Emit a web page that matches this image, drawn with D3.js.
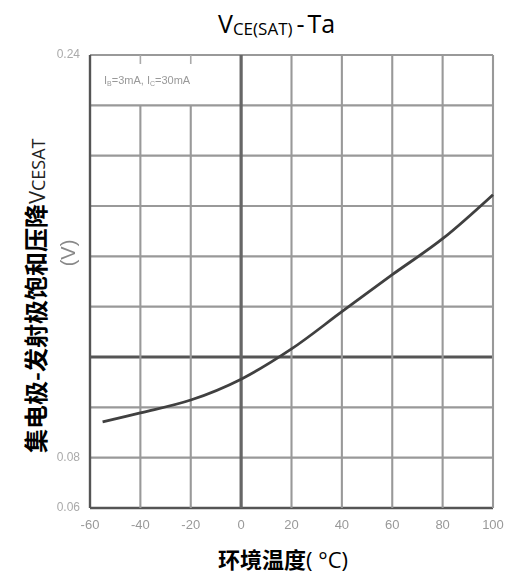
<!DOCTYPE html>
<html>
<head>
<meta charset="utf-8">
<script src="https://cdn.jsdelivr.net/npm/d3@7"></script>
<style>
  body { margin: 0; background: #fff; }
  svg { display: block; }
</style>
</head>
<body>
<div id="graph"></div>
<script>
const w = 514;
const h = 576;
const plot = { left: 90, right: 493, top: 55, bottom: 508 };

const temps = [-55, -40, -20, 0, 20, 40, 60, 80, 100];
const vcesat = [0.0942, 0.0978, 0.1029, 0.1112, 0.1232, 0.138, 0.1527, 0.167, 0.1845];

const xTicks = [-60, -40, -20, 0, 20, 40, 60, 80, 100];
const yGrid = [0.06, 0.08, 0.1, 0.12, 0.14, 0.16, 0.18, 0.2, 0.22, 0.24];
const yLabels = [0.06, 0.08, 0.24];
const boldX = [0];
const boldY = [0.12];
const shortX = [-40, -20]; // these stop under the note box

const svg = d3.select("#graph").append("svg").attr("width", w).attr("height", h);

const x = d3.scaleLinear().domain([-60, 100]).range([plot.left, plot.right]);
const y = d3.scaleLinear().domain([0.06, 0.24]).range([plot.bottom, plot.top]);

svg.append("defs").append("filter").attr("id", "scan")
  .append("feGaussianBlur").attr("stdDeviation", 0.7);

const g = svg.append("g").attr("filter", "url(#scan)");

// grid
g.selectAll(".hgrid")
  .data(yGrid)
  .enter()
  .append("line")
  .attr("x1", plot.left)
  .attr("x2", plot.right)
  .attr("y1", (d) => y(d))
  .attr("y2", (d) => y(d))
  .attr("stroke", (d) => (boldY.includes(d) || d === 0.06 ? "#555" : "#999"))
  .attr("stroke-width", (d) => (boldY.includes(d) ? 3.2 : d === 0.06 ? 2.6 : 2.1));

g.selectAll(".vgrid")
  .data(xTicks)
  .enter()
  .append("line")
  .attr("x1", (d) => x(d))
  .attr("x2", (d) => x(d))
  .attr("y1", (d) => (shortX.includes(d) ? y(0.22) : plot.top))
  .attr("y2", plot.bottom)
  .attr("stroke", (d) => (boldX.includes(d) ? "#666" : d === -60 ? "#555" : "#999"))
  .attr("stroke-width", (d) => (boldX.includes(d) ? 3.2 : d === -60 ? 2.4 : 2.1));

// little ticks at top of the note box
g.selectAll(".tick-top")
  .data(shortX)
  .enter()
  .append("line")
  .attr("x1", (d) => x(d))
  .attr("x2", (d) => x(d))
  .attr("y1", plot.top)
  .attr("y2", plot.top + 9)
  .attr("stroke", "#aaa")
  .attr("stroke-width", 1.6);

// curve
const line = d3
  .line()
  .x((d, i) => x(temps[i]))
  .y((d) => y(d))
  .curve(d3.curveCatmullRom.alpha(0.5));

g.append("path")
  .attr("d", line(vcesat))
  .attr("fill", "none")
  .attr("stroke", "#404040")
  .attr("stroke-width", 2.8);

// tick labels
const scanFont = "Liberation Sans Narrow, Liberation Sans, sans-serif";

g.selectAll(".xlab")
  .data(xTicks)
  .enter()
  .append("text")
  .attr("x", (d) => x(d))
  .attr("y", 529)
  .attr("text-anchor", "middle")
  .attr("font-family", scanFont)
  .attr("font-size", 13)
  .attr("fill", "#999")
  .text((d) => d);

g.selectAll(".ylab")
  .data(yLabels)
  .enter()
  .append("text")
  .attr("x", 80)
  .attr("y", (d) => y(d) + 3)
  .attr("text-anchor", "end")
  .attr("font-family", scanFont)
  .attr("font-size", 12)
  .attr("fill", "#aaa")
  .text((d) => d.toFixed(2));

g.append("text")
  .attr("x", 104)
  .attr("y", 84)
  .attr("font-family", scanFont)
  .attr("font-size", 11)
  .attr("fill", "#999")
  .html('I<tspan font-size="7" dy="2">B</tspan><tspan dy="-2">=3mA, I</tspan><tspan font-size="7" dy="2">C</tspan><tspan dy="-2">=30mA</tspan>');

g.append("text")
  .attr("transform", "translate(75,253) rotate(-90)")
  .attr("text-anchor", "middle")
  .attr("font-family", "Liberation Sans, sans-serif")
  .attr("font-size", 20)
  .attr("fill", "#888")
  .text("(V)");

// titles
const latin = "Open Sans, Noto Sans, sans-serif";
const cjk = "Noto Sans CJK SC, sans-serif";

svg.append("text")
  .attr("x", 218)
  .attr("y", 33)
  .attr("font-family", latin)
  .attr("font-size", 25)
  .attr("fill", "#000")
  .html('V<tspan font-size="17" dy="2">CE(SAT)</tspan><tspan dy="-2" dx="4">-</tspan><tspan dx="3">Ta</tspan>');

svg.append("text")
  .attr("x", 218)
  .attr("y", 568)
  .attr("fill", "#000")
  .html(`<tspan font-family="${cjk}" font-weight="bold" font-size="22">环境温度</tspan><tspan font-family="${latin}" font-size="22">( °C)</tspan>`);

svg.append("text")
  .attr("transform", "translate(45,453) rotate(-90)")
  .attr("fill", "#000")
  .html(`<tspan font-family="${cjk}" font-weight="bold" font-size="24">集电极-发射极饱和压降</tspan><tspan font-family="${latin}" font-size="22" fill="#222">V</tspan><tspan font-family="${latin}" font-size="18" fill="#222">CESAT</tspan>`);
</script>
</body>
</html>
